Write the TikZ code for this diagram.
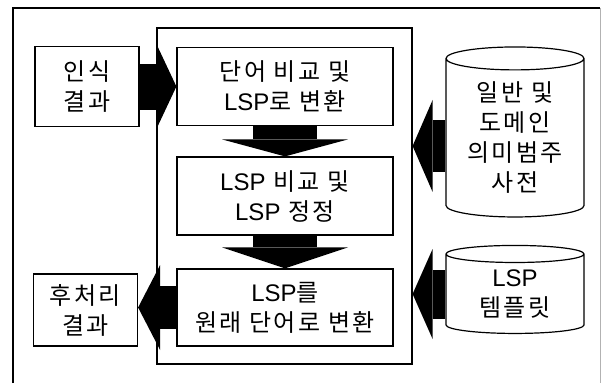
\documentclass[tikz,border=0pt]{standalone}
\usepackage{fontspec}
\setmainfont{Noto Sans CJK KR}[LetterSpace=10]
\newfontfamily\latinfont{Liberation Sans}
\newcommand\lsp{{\latinfont LSP}}
\usetikzlibrary{arrows.meta,shapes.geometric}
\tikzset{
  box/.style={draw,line width=1.2pt,inner sep=0pt,align=center,minimum width=216pt,minimum height=78pt},
  side/.style={draw,line width=1.2pt,inner sep=0pt,align=center,minimum width=104pt},
  store/.style={draw,line width=1.2pt,cylinder,shape border rotate=90,aspect=0.24,inner sep=0pt,align=center,minimum width=138pt},
  fat/.style n args={3}{line width=#1,-{Triangle[length=#3,width=#2,line width=0pt]}}
}
\begin{document}
\begin{tikzpicture}[x=1pt,y=-1pt,font=\fontsize{24}{30}\selectfont]
  \useasboundingbox (0,0) rectangle (602,383);
  % frames
  \draw[line width=1.2pt] (13,383) -- (13,8) -- (600,8);
  \draw[line width=0.8pt,gray!60] (600,8) -- (600,383);
  \node[draw,line width=1.2pt,minimum width=255pt,minimum height=336pt] (frame) at (284.5,196) {};
  % steps
  \node[box] (conv) at (285,86.5) {단어 비교 및\\\lsp 로 변환};
  \node[box] (fix) at (285,196) {\lsp\ 비교 및\\\lsp\ 정정};
  \node[box,minimum height=77pt] (back) at (285,307.5) {\lsp 를\\원래 단어로 변환};
  % input / output
  \node[side,minimum height=80pt] (rec) at (87,86.5) {인식\\결과};
  \node[side,minimum height=72pt] (post) at (85.5,310) {후처리\\결과};
  % dictionaries
  \node[store,minimum height=170pt] (dict) at (515,138) {일반 및\\도메인\\의미범주\\사전};
  \node[store,minimum height=88pt] (tmpl) at (515,294) {\lsp\\템플릿};
  % arrows
  \draw[fat={46pt}{85pt}{20pt}] (rec.east) -- (conv.west);
  \draw[fat={64pt}{126pt}{17pt}] (conv.south) -- (fix.north);
  \draw[fat={64pt}{126pt}{21pt}] (fix.south) -- (back.north);
  \draw[fat={52pt}{92pt}{20pt}] ([yshift=-8pt]dict.west) -- ([yshift=-8pt]dict.west -| frame.east);
  \draw[fat={49pt}{90pt}{20pt}] (tmpl.west) -- (tmpl.west -| frame.east);
  \draw[fat={43pt}{85pt}{22pt}] (back.west) -- (back.west -| post.east);
\end{tikzpicture}
\end{document}
